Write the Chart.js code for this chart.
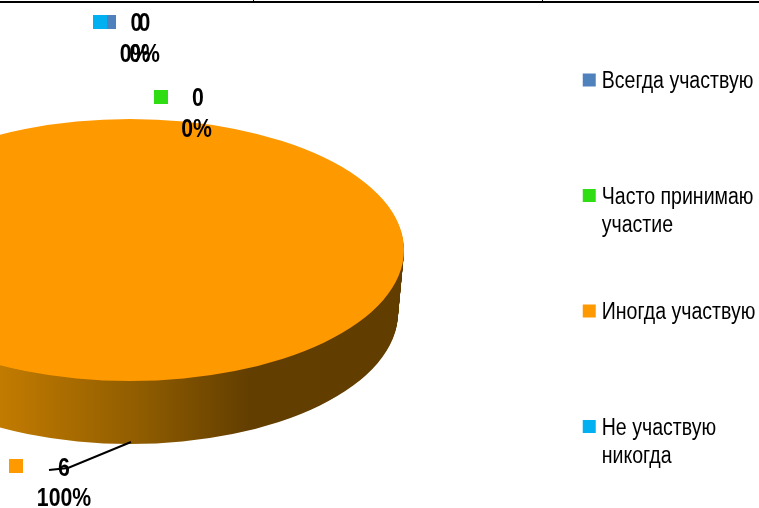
<!DOCTYPE html>
<html><head><meta charset="utf-8">
<style>html,body{margin:0;padding:0;background:#fff;overflow:hidden}canvas{display:block}</style>
<script src="https://cdn.jsdelivr.net/npm/chart.js@4"></script>
</head><body><canvas id="c" width="759" height="508"></canvas>
<script>
const categories = [["Всегда участвую", ""], ["Часто принимаю", "участие"], ["Иногда участвую", ""], ["Не участвую", "никогда"]];
const seriesValues = [0, 0, 6, 0];
const percentLabels = ["0%", "0%", "100%", "0%"];
const sliceColors = ["#4f81bd", "#2fdd13", "#ff9900", "#00b0f0"];

const FONT = '"Liberation Sans",Arial,sans-serif';
const NARROW = 0.85;
const RADIUS = 274, SQUASH = 131 / 274, DEPTH = 63, LOWER_RX = 268;
/* label anchors: [key x, key y, value x, value y, percent x, percent y] */
const labelPos = [
  [103, 15, 136.5, 22, 135, 53],
  [154, 90, 198, 97, 196.5, 128],
  [9, 459, 64, 467, 64, 497],
  [93, 15, 144.5, 22, 144.5, 53]
];

const canvas = document.getElementById('c');
const rawCtx = canvas.getContext('2d');
const rawFillText = rawCtx.fillText.bind(rawCtx);
/* no narrow face is installed: condense every string horizontally */
rawCtx.fillText = function (text, x, y) {
  rawCtx.save();
  rawCtx.translate(x, y + 2);
  rawCtx.scale(NARROW, 1);
  rawFillText(text, 0, 0);
  rawCtx.restore();
};

const pie3d = {
  id: 'pie3d',
  afterLayout(chart) {
    chart.chartArea = { left: 0, right: 260, top: 0, bottom: 500, width: 260, height: 500 };
  },
  beforeDatasetDraw(chart) {
    const ctx = chart.ctx, meta = chart.getDatasetMeta(0);
    const grad = ctx.createLinearGradient(0, 0, 404, 0);
    grad.addColorStop(0, '#c27b00');
    grad.addColorStop(0.35, '#8f5c00');
    grad.addColorStop(0.62, '#623e00');
    grad.addColorStop(1, '#623d00');
    ctx.save();
    ctx.fillStyle = grad;
    meta.data.forEach(arc => {
      const p = arc.getProps(['x', 'y', 'startAngle', 'endAngle', 'outerRadius']);
      if (p.endAngle - p.startAngle <= 0) return;
      for (let d = DEPTH; d >= 1; d--) {
        const rx = p.outerRadius + (LOWER_RX - p.outerRadius) * d / DEPTH;
        ctx.beginPath();
        ctx.ellipse(p.x, p.y + d, rx, p.outerRadius * SQUASH, 0, p.startAngle, p.endAngle);
        ctx.fill();
      }
    });
    ctx.restore();
    const a = meta.data[2];
    ctx.save();
    ctx.translate(a.x, a.y);
    ctx.scale(1, SQUASH);
    ctx.translate(-a.x, -a.y);
  },
  afterDatasetDraw(chart) {
    chart.ctx.restore();
  },
  afterDraw(chart) {
    const ctx = chart.ctx;
    ctx.save();
    ctx.fillStyle = '#000';
    ctx.fillRect(0, 1, 759, 2);
    ctx.fillRect(253, 0, 1, 1);
    ctx.fillRect(542, 0, 1, 1);
    ctx.strokeStyle = '#000';
    ctx.lineWidth = 2;
    ctx.beginPath();
    ctx.moveTo(131, 442);
    ctx.lineTo(68, 468);
    ctx.lineTo(49, 470);
    ctx.stroke();
    ctx.textAlign = 'center';
    ctx.textBaseline = 'middle';
    ctx.font = 'bold 25px ' + FONT;
    [0, 3, 1, 2].forEach(i => {
      const q = labelPos[i];
      ctx.fillStyle = sliceColors[i];
      ctx.fillRect(q[0], q[1], i === 0 ? 13 : 14, 14);
      ctx.fillStyle = '#000';
      ctx.fillText(String(seriesValues[i]), q[2], q[3]);
      ctx.fillText(percentLabels[i], q[4], q[5]);
    });
    ctx.restore();
  }
};

new Chart(canvas, {
  type: 'pie',
  plugins: [pie3d],
  data: {
    labels: categories,
    datasets: [{ data: seriesValues, backgroundColor: sliceColors, borderWidth: 0, clip: false }]
  },
  options: {
    responsive: false,
    animation: false,
    radius: RADIUS,
    layout: { padding: { left: 0, right: -33.5, top: -30.5, bottom: -22.5 } },
    plugins: {
      tooltip: { enabled: false },
      legend: {
        position: 'right',
        align: 'end',
        labels: {
          boxWidth: 2, boxHeight: 2, padding: 59.5, color: '#000',
          font: { family: FONT, size: 23, lineHeight: 28 / 23 },
          generateLabels(chart) {
            return chart.data.labels.map((t, i) => ({
              text: t, fillStyle: sliceColors[i], strokeStyle: sliceColors[i],
              lineWidth: 11, hidden: false, index: i, fontColor: '#000'
            }));
          }
        }
      }
    }
  }
});
</script></body></html>
